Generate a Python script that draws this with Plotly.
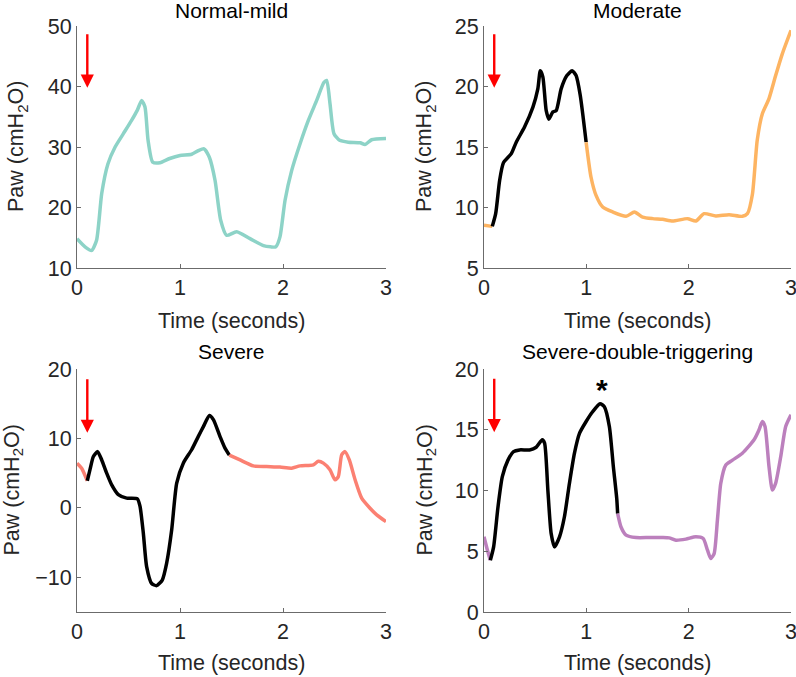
import plotly.graph_objects as go

# ---------------- data ----------------
# Panel 1: Normal-mild (single teal trace)
nm_t = [0, 0.078, 0.142, 0.19, 0.24, 0.30, 0.37, 0.45, 0.53, 0.586, 0.628, 0.66, 0.69, 0.735, 0.806, 0.90, 1.0,
        1.113, 1.178, 1.233, 1.285, 1.34, 1.395, 1.453, 1.55, 1.68, 1.81, 1.88, 1.93, 1.97, 2.02, 2.084, 2.165,
        2.246, 2.327, 2.398, 2.424, 2.456, 2.495, 2.55, 2.634, 2.75, 2.796, 2.86, 3.0]
nm_p = [14.85, 13.5, 12.9, 14.6, 22.3, 27.2, 30.0, 32.2, 34.4, 36.1, 37.7, 36.6, 31.1, 27.5, 27.4, 28.1, 28.6,
        28.8, 29.4, 29.7, 28.3, 24.5, 17.9, 15.4, 16.0, 14.85, 13.7, 13.5, 13.5, 15.1, 21.2, 26.1, 30.5,
        34.4, 37.7, 40.7, 41.0, 37.2, 32.2, 31.1, 30.8, 30.7, 30.4, 31.2, 31.4]

# Panel 2: Moderate
mod_t_a = [0, 0.081]
mod_p_a = [8.53, 8.44]
mod_t_b = [0.081, 0.114, 0.153, 0.19, 0.267, 0.315, 0.396, 0.478, 0.526, 0.55, 0.575, 0.608, 0.634, 0.673,
           0.705, 0.754, 0.81, 0.861, 0.9, 0.94, 0.998]
mod_p_b = [8.44, 9.49, 12.25, 13.7, 14.45, 15.4, 16.65, 18.3, 19.8, 21.3, 20.8, 18.0, 17.3, 17.9,
           18.0, 19.8, 20.9, 21.3, 20.9, 19.3, 15.4]
mod_t_c = [0.998, 1.046, 1.095, 1.16, 1.258, 1.388, 1.47, 1.55, 1.648, 1.745, 1.843, 1.99, 2.07, 2.15,
           2.265, 2.395, 2.525, 2.574, 2.623, 2.67, 2.72, 2.785, 2.85, 2.915, 3.0]
mod_p_c = [15.4, 12.5, 11.0, 10.04, 9.63, 9.27, 9.63, 9.21, 9.08, 9.02, 8.88, 9.08, 8.88, 9.49,
           9.3, 9.4, 9.27, 9.49, 11.1, 15.55, 17.75, 19.0, 20.9, 22.7, 24.64]

# Panel 3: Severe
sev_t_a = [0, 0.045, 0.1]
sev_p_a = [6.44, 5.7, 3.9]
sev_t_b = [0.1, 0.126, 0.159, 0.2, 0.24, 0.288, 0.337, 0.401, 0.482, 0.586, 0.612, 0.644, 0.676, 0.725,
           0.773, 0.828, 0.87, 0.919, 0.968, 1.032, 1.113, 1.178, 1.227, 1.285, 1.324, 1.388, 1.437, 1.479]
sev_p_b = [3.9, 5.5, 7.4, 8.1, 6.9, 5.0, 3.3, 1.9, 1.4, 1.3, 0.2, -3.65, -8.46, -10.9,
           -11.2, -10.4, -8.0, -3.2, 3.56, 6.44, 8.37, 10.3, 11.7, 13.3, 12.7, 10.3, 8.6, 7.6]
sev_t_c = [1.479, 1.583, 1.712, 1.84, 1.971, 2.084, 2.165, 2.295, 2.343, 2.392, 2.456, 2.505, 2.537, 2.57,
           2.602, 2.644, 2.7, 2.764, 2.845, 2.91, 3.0]
sev_p_c = [7.6, 6.9, 6.05, 5.96, 5.87, 5.72, 6.05, 6.2, 6.7, 6.44, 5.48, 4.04, 4.5, 7.64,
           8.1, 6.9, 4.04, 1.4, -0.05, -1.0, -1.97]

# Panel 4: Severe-double-triggering
dt_t_a = [0, 0.029, 0.062]
dt_p_a = [6.19, 5.23, 4.26]
dt_t_b = [0.062, 0.094, 0.137, 0.179, 0.234, 0.289, 0.348, 0.445, 0.51, 0.569, 0.592, 0.624, 0.656, 0.689,
          0.738, 0.786, 0.835, 0.884, 0.933, 0.998, 1.063, 1.134, 1.176, 1.225, 1.264, 1.297, 1.306]
dt_p_b = [4.26, 5.36, 8.67, 11.14, 12.5, 13.2, 13.34, 13.34, 13.56, 14.17, 13.9, 10.04, 6.47, 5.36,
          6.19, 7.84, 10.6, 13.07, 14.7, 15.68, 16.5, 17.14, 16.9, 15.27, 11.97, 9.35, 8.1]
dt_t_c = [1.306, 1.339, 1.388, 1.485, 1.615, 1.745, 1.81, 1.875, 1.973, 2.07, 2.142, 2.184, 2.216, 2.249,
          2.281, 2.314, 2.363, 2.428, 2.525, 2.639, 2.688, 2.72, 2.746, 2.785, 2.818, 2.85, 2.9, 2.948, 3.0]
dt_p_c = [8.1, 7.0, 6.33, 6.13, 6.13, 6.13, 6.1, 5.91, 6.0, 6.19, 6.05, 5.09, 4.4, 4.81,
          7.57, 10.6, 12.1, 12.5, 13.07, 14.17, 15.0, 15.68, 15.27, 11.97, 10.04, 10.6, 12.8, 15.27, 16.23]

titles = ["Normal-mild", "Moderate", "Severe", "Severe-double-triggering"]
y_ranges = [[10, 50], [5, 25], [-15, 20], [0, 20]]
y_ticks = [[10, 20, 30, 40, 50], [5, 10, 15, 20, 25], [-10, 0, 10, 20], [0, 5, 10, 15, 20]]
x_ticks = [0, 1, 2, 3]
x_label = "Time (seconds)"
y_label = "Paw (cmH<sub>2</sub>O)"
arrow_time = 0.1
arrow_tips = [39.8, 19.9, 10.8, 14.8]
star_t, star_p = 1.154, 18.3

TEAL = "#8dd3c7"
ORANGE = "#fdb462"
SALMON = "#fb8072"
PURPLE = "#bc80bd"
BLACK = "#000000"

# ---------------- figure ----------------
W, H = 796, 677
fig = go.Figure()


def px_x(v):
    return v / W


def px_y(v):
    return 1 - v / H


# plot-area boxes in pixels: (left, right, top, bottom)
boxes = [(77, 386, 26, 268), (484, 791, 26, 268), (77, 386, 369, 612), (484, 791, 369, 612)]
ylab_x = [18, 426, 13, 426]
xlab_y = [321, 321, 663, 663]
title_y = [10, 10, 352, 352]

series = [
    [(nm_t, nm_p, TEAL)],
    [(mod_t_a, mod_p_a, ORANGE), (mod_t_b, mod_p_b, BLACK), (mod_t_c, mod_p_c, ORANGE)],
    [(sev_t_a, sev_p_a, SALMON), (sev_t_b, sev_p_b, BLACK), (sev_t_c, sev_p_c, SALMON)],
    [(dt_t_a, dt_p_a, PURPLE), (dt_t_b, dt_p_b, BLACK), (dt_t_c, dt_p_c, PURPLE)],
]

FONT = "Liberation Sans, Arial, sans-serif"
TXT = "#262626"
AXC = "#6b6b6b"
FS = 21.5

for i in range(4):
    l, r, t, b = boxes[i]
    xa = "x" if i == 0 else f"x{i+1}"
    ya = "y" if i == 0 else f"y{i+1}"
    for tt, pp, c in series[i]:
        fig.add_trace(go.Scatter(x=tt, y=pp, mode="lines", xaxis=xa, yaxis=ya,
                                 line=dict(color=c, width=3.5, shape="spline", smoothing=0.6),
                                 showlegend=False, hoverinfo="skip", cliponaxis=False))
    xk = "xaxis" if i == 0 else f"xaxis{i+1}"
    yk = "yaxis" if i == 0 else f"yaxis{i+1}"
    fig.layout[xk] = dict(domain=[px_x(l), px_x(r)], anchor=ya, range=[0, 3], tickvals=x_ticks,
                          showgrid=False, zeroline=False, showline=True, linecolor=AXC, linewidth=1,
                          ticks="inside", ticklen=4, tickcolor=AXC, automargin=False,
                          ticklabeloverflow="allow",
                          tickfont=dict(family=FONT, size=FS, color=TXT))
    fig.layout[yk] = dict(domain=[px_y(b), px_y(t)], anchor=xa, range=y_ranges[i], tickvals=y_ticks[i],
                          showgrid=False, zeroline=False, showline=True, linecolor=AXC, linewidth=1,
                          ticks="inside", ticklen=4, tickcolor=AXC, automargin=False,
                          ticklabeloverflow="allow",
                          tickfont=dict(family=FONT, size=FS, color=TXT))
    # title
    fig.add_annotation(text=titles[i], xref="paper", yref="paper", x=px_x((l + r) / 2), y=px_y(title_y[i]),
                       xanchor="center", yanchor="middle", showarrow=False,
                       font=dict(family=FONT, size=21, color="#000000"))
    # x label
    fig.add_annotation(text=x_label, xref="paper", yref="paper", x=px_x((l + r) / 2), y=px_y(xlab_y[i]),
                       xanchor="center", yanchor="middle", showarrow=False,
                       font=dict(family=FONT, size=FS, color=TXT))
    # y label
    fig.add_annotation(text=y_label, xref="paper", yref="paper", x=px_x(ylab_x[i]), y=px_y((t + b) / 2),
                       xanchor="center", yanchor="middle", showarrow=False, textangle=-90,
                       font=dict(family=FONT, size=FS, color=TXT))
    # red arrow
    fig.add_annotation(x=arrow_time, y=arrow_tips[i], xref=xa, yref=ya, ax=0, ay=-55,
                       showarrow=True, arrowhead=2, arrowsize=1.1, arrowwidth=2.4, arrowcolor="#ff0000", text="")

fig.add_annotation(text="<b>*</b>", x=star_t, y=star_p, xref="x4", yref="y4", showarrow=False,
                   font=dict(family=FONT, size=30, color="#000000"), yanchor="middle")

fig.update_layout(width=W, height=H, margin=dict(l=0, r=0, t=0, b=0), template="none",
                  paper_bgcolor="white", plot_bgcolor="white")

fig.write_html("out.html", config={"displayModeBar": False},
               post_script="document.body.style.margin='0px';document.body.style.overflow='hidden';")
